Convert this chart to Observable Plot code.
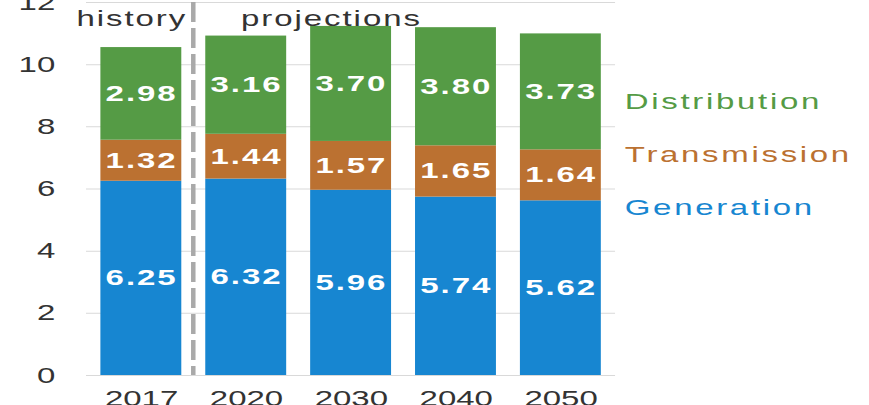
<!DOCTYPE html>
<html><head><meta charset="utf-8">
<script src="https://cdn.jsdelivr.net/npm/d3@7"></script>
<script src="https://cdn.jsdelivr.net/npm/@observablehq/plot@0.6"></script>
<style>
html,body{margin:0;padding:0;background:#fff;overflow:hidden;}
#chart{width:580px;height:405px;transform:scaleX(1.4983);transform-origin:0 0;}
#chart svg{display:block;}
</style></head><body><div id="chart"></div>
<script>
const years = ["2017","2020","2030","2040","2050"];
const components = ["Generation","Transmission","Distribution"];
const generation = [6.25,6.32,5.96,5.74,5.62];
const transmission = [1.32,1.44,1.57,1.65,1.64];
const distribution = [2.98,3.16,3.70,3.80,3.73];
const colors = ["#1786d1","#bb7131","#559b45"];
const yTicks = [0,2,4,6,8,10,12];
const periodLabels = ["history","projections"];

const series = [generation, transmission, distribution];
const data = [];
components.forEach((c,i)=> years.forEach((yr,j)=> data.push({year: yr, component: c, value: series[i][j]})));

const font = "'Liberation Sans', Arial, sans-serif";

const chart = Plot.plot({
  width: 580, height: 405,
  marginTop: 2, marginBottom: 30, marginLeft: 57.4, marginRight: 169.5,
  style: {fontFamily: font, fontSize: "22px", color: "#333", background: "#fff"},
  x: {domain: years, paddingInner: 0.23, paddingOuter: 0.13},
  y: {domain: [0, 12]},
  color: {domain: components, range: colors},
  marks: [
    Plot.gridY(yTicks, {stroke: "#d9d9d9", strokeOpacity: 1, strokeWidth: 1}),
    Plot.barY(data, {x: "year", y: "value", fill: "component"}),
    Plot.text(data, Plot.stackY({x: "year", y: "value", text: d => d.value.toFixed(2), fill: "white", fontWeight: "bold", fontSize: 22})),
    Plot.ruleX([years[0]], {x: d => d, dx: 34.5, stroke: "#a9a9a9", strokeWidth: 3, strokeDasharray: "20,6"}),
    Plot.axisX({tickSize: 0, tickPadding: 15, label: null, fontSize: 22}),
    Plot.axisY({ticks: yTicks, tickSize: 0, tickPadding: 21, label: null, fontSize: 22}),
    Plot.text([periodLabels[0]], {text: d => d, frameAnchor: "top-left", textAnchor: "end", lineAnchor: "bottom", dx: 67, dy: 23, fill: "#333", fontSize: 22}),
    Plot.text([periodLabels[1]], {text: d => d, frameAnchor: "top-left", textAnchor: "start", lineAnchor: "bottom", dx: 103, dy: 23, fill: "#333", fontSize: 22}),
    ...components.map((c, i) => Plot.text([c], {text: d => d, fill: d => d, frameAnchor: "right", textAnchor: "start", lineAnchor: "middle", dx: 6, dy: 18.5 - 53 * i, fontSize: 22}))
  ]
});
document.getElementById("chart").appendChild(chart);
const svg = d3.select(chart);
svg.selectAll('g[aria-label="text"] text').attr("letter-spacing", "1.3px");
svg.selectAll('g[aria-label="text"] text').filter(function() { return components.includes(this.textContent); }).attr("letter-spacing", "1.8px");
</script>
</body></html>
